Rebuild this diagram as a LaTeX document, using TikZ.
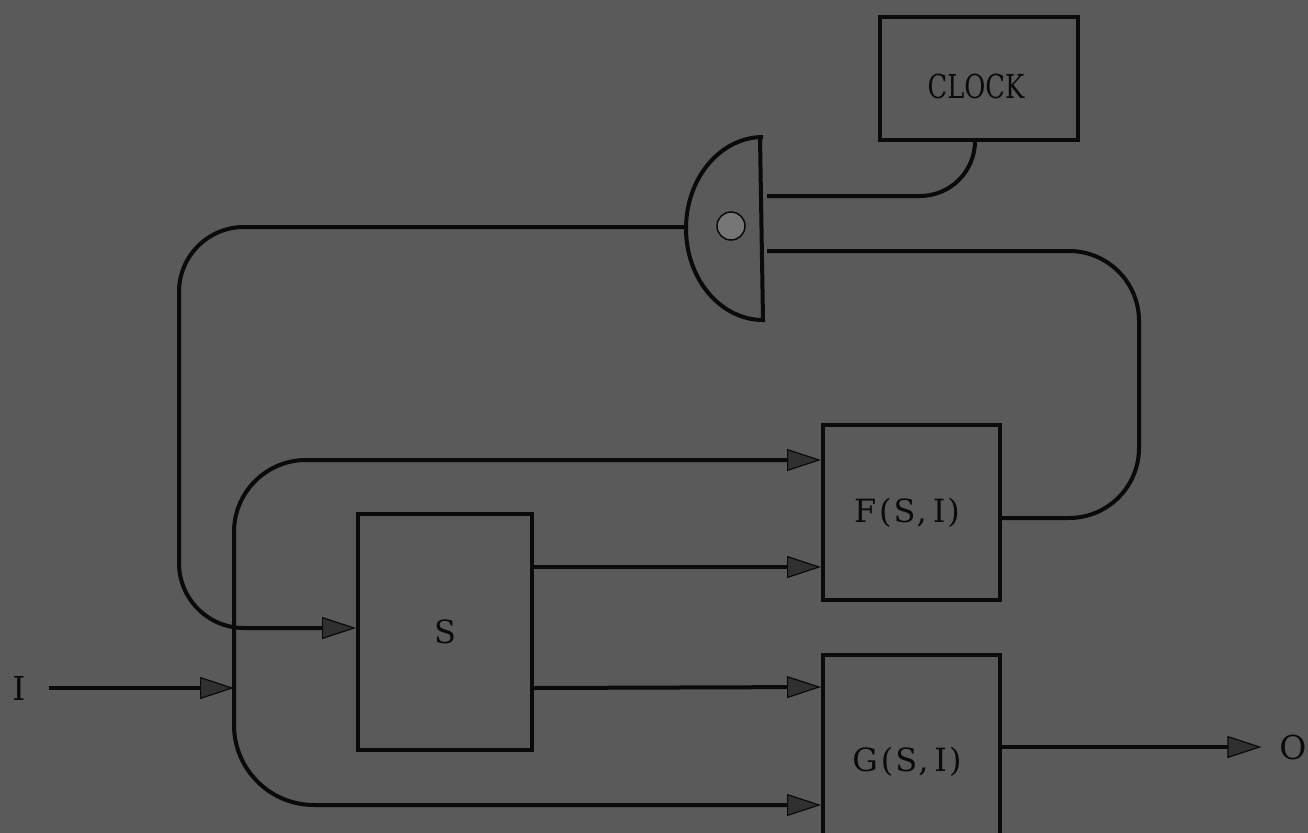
\documentclass[tikz,border=0pt]{standalone}
\usepackage{graphicx}
\usepackage{fontspec}
\newfontfamily\lblfont{DejaVu Serif}
\usetikzlibrary{arrows.meta,calc}
\definecolor{bg}{RGB}{90,90,90}
\definecolor{ink}{RGB}{10,10,10}
\definecolor{tipfill}{RGB}{48,48,48}
\definecolor{dotfill}{RGB}{118,118,118}
\begin{document}
\begin{tikzpicture}[x=1pt,y=-1pt,
  line width=4pt, draw=ink,
  box/.style={draw=ink, line width=4pt, inner sep=0pt, text=ink,
              font=\lblfont\fontsize{32}{38}\selectfont},
  lbl/.style={inner sep=0pt, text=ink, font=\lblfont\fontsize{33}{38}\selectfont},
  arr/.style={-{Triangle[length=34pt,width=22pt,line width=1.2pt,fill=tipfill]}},
  wire/.style={draw=ink, line width=4pt}]
\useasboundingbox (0,0) rectangle (1308,832);
\fill[bg] (-10,-10) rectangle (1318,842);
\clip (0,0) rectangle (1308,832);

% boxes
\node[box, minimum width=198pt, minimum height=123pt] (clock) at (979,78.5) {};
\node[lbl] (clocktxt) at (976,86) {\scalebox{0.78}[1]{CLOCK}};
\node[box, minimum width=174pt, minimum height=236pt] (S) at (445,632) {S};
\node[box, minimum width=177pt, minimum height=175pt] (F) at (911.5,512.5)
  {\kern-9pt F\kern3pt(\kern2pt S\kern1pt,\kern6pt I\kern2pt)};
\node[box, minimum width=177pt, minimum height=213pt] (G) at (911.5,761.5)
  {\kern-9pt G\kern3pt(\kern2pt S\kern1pt,\kern6pt I\kern2pt)};
\node[lbl] (I) at (19,688) {I};
\node[lbl] (O) at (1293,747) {O};

% gate
\draw[wire, line join=miter] (760,137) -- (763,320)
  arc[start angle=90, end angle=270, x radius=77, y radius=91.5] -- cycle;
\draw[line width=1.5pt, draw=ink, fill=dotfill] (731,226) circle (14);
\coordinate (gR1) at (767,196);
\coordinate (gR2) at (767,251);
\coordinate (gL) at (684,227);
\coordinate (bus) at (234,688);

% connectors
\draw[wire, rounded corners=55pt] ([xshift=-4pt]clock.south) |- (gR1);
\draw[wire, rounded corners=70pt] ($(F.east)+(0,5.5)$) -- (1139,518) -- (1139,251) -- (gR2);
\draw[wire, arr, rounded corners=65pt] (gL) -- (179,227) -- (179,628) -- ($(S.west)+(0,-4)$);
\draw[wire, arr] ([xshift=21pt]I.east) -- (bus);
\draw[wire, arr, rounded corners=72pt] (bus) |- ($(F.west)+(0,-52.5)$);
\draw[wire, arr, rounded corners=80pt] (bus) |- ($(G.west)+(0,43.5)$);
\draw[wire, arr] ($(S.east)+(0,-65)$) -- ($(F.west)+(0,54.5)$);
\draw[wire, arr] ($(S.east)+(0,56)$) -- ($(G.west)+(0,-74.5)$);
\draw[wire, arr] ($(G.east)+(0,-14.5)$) -- ([xshift=-16pt]O.west);
\end{tikzpicture}
\end{document}
